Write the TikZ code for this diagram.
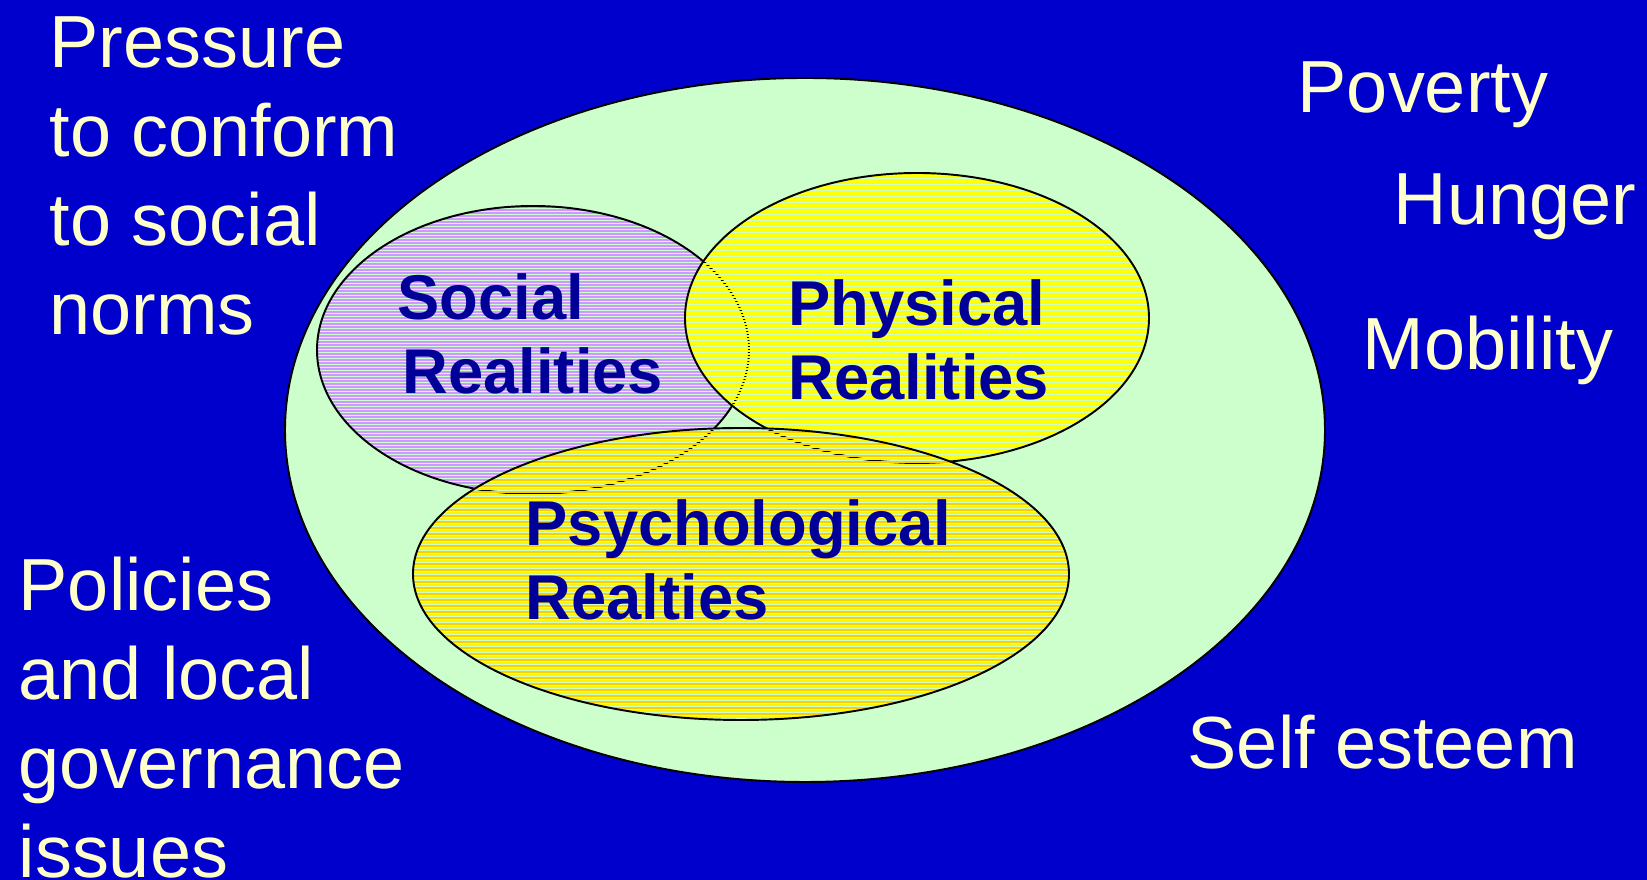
\documentclass[tikz,border=0pt]{standalone}
\usepackage{fontspec}
\setmainfont{Liberation Sans}
\usetikzlibrary{positioning}

\definecolor{bgblue}{HTML}{0000CC}
\definecolor{palegreen}{HTML}{CCFFCC}
\definecolor{creamtext}{HTML}{FFFFCC}
\definecolor{navytext}{HTML}{000099}
\definecolor{lilac}{HTML}{CC99FF}
\definecolor{gold}{HTML}{FFCC00}
\definecolor{lemon}{HTML}{FFFF00}

\tikzset{
  outerlabel/.style={anchor=north west, inner sep=0pt, align=left, text=creamtext,
    font=\fontsize{21}{25.3}\selectfont},
  realitylabel/.style={anchor=north west, inner sep=0pt, align=left, text=navytext,
    font=\fontsize{18}{21}\selectfont\bfseries},
  rim/.style={draw=black, line width=0.55pt},
  stripe/.style={line width=0.43pt},
}

\begin{document}
\begin{tikzpicture}[x=0.01cm, y=-0.01cm]
    \useasboundingbox (0,0) rectangle (1647,880);
    \fill[bgblue] (0,0) rectangle (1647,880);

    % outer ellipse
    \filldraw[fill=palegreen, rim] (805,430) ellipse [x radius=520, y radius=352];

    % social
    \begin{scope}
        \clip (533,350) ellipse [x radius=216, y radius=144];
        \foreach \k in {68,...,165}
            \draw[stripe, line width=0.32pt, lilac] (310,3*\k) -- (755,3*\k);
    \end{scope}
    \draw[rim] (533,350) ellipse [x radius=216, y radius=144];

    % physical
    \begin{scope}
        \clip (917,318) ellipse [x radius=232, y radius=145];
        \foreach \k in {57,...,154}
            \draw[stripe, lemon] (680,3*\k) -- (1155,3*\k);
    \end{scope}
    \draw[rim] (917,318) ellipse [x radius=232, y radius=145];

    % psychological
    \begin{scope}
        \clip (741,574) ellipse [x radius=328, y radius=146];
        \foreach \k in {142,144,...,240}
            \draw[stripe, gold] (405,3*\k) -- (1075,3*\k);
        \foreach \k in {143,145,...,241}
            \draw[stripe, lemon!80!gold] (405,3*\k) -- (1075,3*\k);
    \end{scope}
    \draw[rim] (741,574) ellipse [x radius=328, y radius=146];

    % inner labels
    \node[realitylabel] (social) at (397,273) {Social\\\hspace*{0.05cm}Realities};
    \node[realitylabel] (physical) at (788,279) {Physical\\Realities};
    \node[realitylabel] (psych) at (525,499) {Psychological\\Realties};

    % outside labels
    \node[outerlabel] (pressure) at (49,16) {Pressure\\to conform\\to social\\norms};
    \node[outerlabel] (policies) at (18,556) {Policies\\and local\\governance\\issues};
    \node[outerlabel] (poverty) at (1297,61) {Poverty};
    \node[outerlabel] (hunger) at (1393,173) {Hunger};
    \node[outerlabel] (mobility) at (1362,315) {Mobility};
    \node[outerlabel] (esteem) at (1187,714) {Self esteem};
\end{tikzpicture}
\end{document}
